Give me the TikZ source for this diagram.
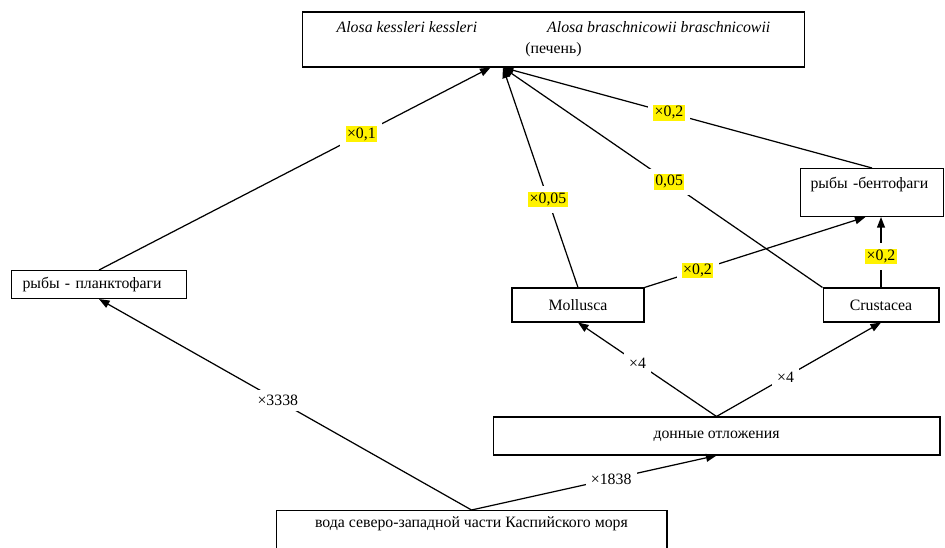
\documentclass[tikz,border=0pt]{standalone}
\usepackage{fontspec}
\setmainfont{Liberation Serif}
\usepackage{xcolor}
\usepackage{tikz}
\usetikzlibrary{arrows.meta}
\newcommand{\hlt}[1]{{\setlength{\fboxsep}{0.8pt}\colorbox{yellow}{#1}}}

\begin{document}
\begin{tikzpicture}[x=0.02cm,y=-0.02cm,font=\fontsize{9}{12}\selectfont,
  box/.style={draw,line width=0.6pt,inner sep=0pt},
  arr/.style={-{Triangle[length=6pt,width=4.5pt]},line width=0.7pt},
  lbl/.style={fill=white,inner sep=3pt}]
\useasboundingbox (0,0) rectangle (945,547);
\node[box,align=center,minimum width=10.06cm,minimum height=1.1cm] (alosa) at (553.5,39.5)
  {{\itshape Alosa kessleri kessleri\hspace{1.4cm}Alosa braschnicowii braschnicowii}\\(печень)};
\node[box,anchor=north west,inner xsep=0.2cm,inner ysep=0.1cm,text width=2.46cm,align=left,
  text height=0.3cm,text depth=0.46cm] (bent) at (800,168) {рыбы -бентофаги};
\node[box,anchor=north west,inner xsep=0.22cm,text width=3.06cm,align=left,
  minimum height=0.56cm] (plank) at (11,270) {рыбы - планктофаги};
\node[box,minimum width=2.64cm,minimum height=0.68cm] (moll) at (578,305) {Mollusca};
\node[box,minimum width=2.32cm,minimum height=0.68cm] (crus) at (881,305) {Crustacea};
\node[box,minimum width=8.94cm,minimum height=0.76cm] (sed) at (716.5,436) {донные отложения};
\node[box,anchor=north,minimum width=7.82cm,inner ysep=0.1cm,
  text height=0.24cm,text depth=0.7cm] (water) at (471.5,510) {вода северо-западной части Каспийского моря};

\draw[arr] (plank.north) -- node[lbl,pos=0.67] (l1) {\hlt{×0,1}} (alosa.204);
\draw[arr] (moll.north) -- node[lbl,pos=0.4] (l2) {\hlt{×0,05}} (alosa.209);
\draw[arr] (crus.north west) -- node[lbl,pos=0.48] (l3) {\hlt{0,05}} (alosa.209);
\draw[arr] (bent.north) -- node[lbl,pos=0.55] (l4) {\hlt{×0,2}} (alosa.209);
\draw[arr] (moll.north east) -- node[lbl,pos=0.24] (l5) {\hlt{×0,2}} (bent.255);
\draw[arr] (crus.north) -- node[lbl,pos=0.44] (l6) {\hlt{×0,2}} (crus.north |- bent.south);
\draw[arr] (sed.north) -- node[lbl,pos=0.57] (l7) {×4} (moll.south);
\draw[arr] (sed.north) -- node[lbl,pos=0.42] (l8) {×4} (crus.south);
\draw[arr] (water.north) -- node[lbl,pos=0.52] (l9) {×3338} (plank.south);
\draw[arr] (water.north) -- node[lbl,pos=0.57] (l10) {×1838} (sed.south);
\end{tikzpicture}
\end{document}
